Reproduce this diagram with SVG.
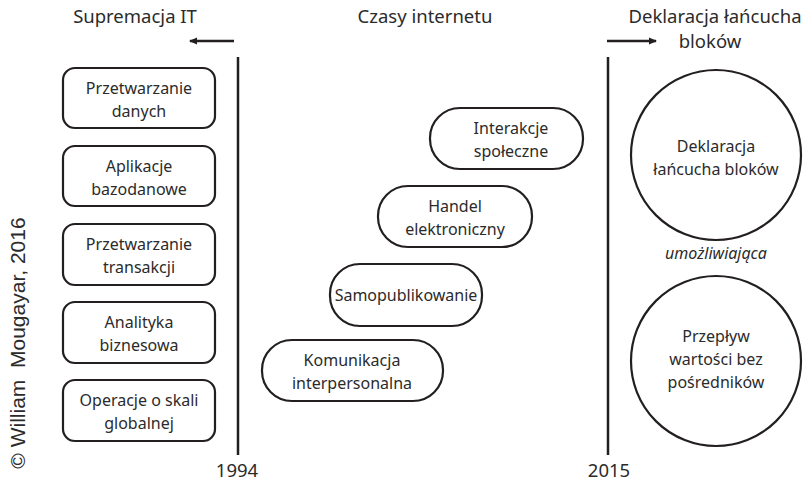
<svg xmlns="http://www.w3.org/2000/svg" width="806" height="484" viewBox="0 0 806 484">
<style>
.t{font-family:"Noto Sans","Open Sans",sans-serif;font-size:16px;fill:#2b2b2b;text-anchor:middle}
.h{font-family:"Noto Sans","Open Sans",sans-serif;font-size:18.5px;fill:#2b2b2b;text-anchor:middle}
.s{fill:#fff;stroke:#231f20;stroke-width:2.2}
.ln{stroke:#231f20;stroke-width:2.5;fill:none}
</style>
<defs>
<marker id="ah" markerWidth="8" markerHeight="8" refX="7" refY="4" orient="auto" markerUnits="userSpaceOnUse">
<path d="M0,0.5 L8,4 L0,7.5 Z" fill="#231f20"/>
</marker>
</defs>
<rect width="806" height="484" fill="#fff"/>
<text class="h" x="135" y="23">Supremacja IT</text>
<text class="h" x="425" y="23">Czasy internetu</text>
<text class="h" x="715" y="23">Deklaracja łańcucha</text>
<text class="h" x="710" y="48">bloków</text>
<text class="h" x="237" y="477">1994</text>
<text class="h" x="609" y="477">2015</text>
<text x="0" y="0" transform="translate(25,343) rotate(-90)" style="font-family:'Liberation Sans',Arial,sans-serif;font-size:21px;fill:#2b2b2b;text-anchor:middle;white-space:pre" xml:space="preserve">© William  Mougayar, 2016</text>
<g id="connectors">
<line class="ln" x1="238" y1="57" x2="238" y2="455"/>
<line class="ln" x1="608" y1="57" x2="608" y2="455"/>
<line class="ln" x1="234" y1="41" x2="190" y2="41" marker-end="url(#ah)"/>
<line class="ln" x1="607" y1="41" x2="656" y2="41" marker-end="url(#ah)"/>
</g>
<g id="n1"><rect class="s" x="63" y="68" width="152" height="60" rx="12"/><text class="t" x="139" y="94">Przetwarzanie</text><text class="t" x="139" y="117">danych</text></g>
<g id="n2"><rect class="s" x="63" y="146" width="152" height="60" rx="12"/><text class="t" x="139" y="172">Aplikacje</text><text class="t" x="139" y="195">bazodanowe</text></g>
<g id="n3"><rect class="s" x="63" y="224" width="152" height="61" rx="12"/><text class="t" x="139" y="250">Przetwarzanie</text><text class="t" x="139" y="273">transakcji</text></g>
<g id="n4"><rect class="s" x="63" y="302" width="152" height="61" rx="12"/><text class="t" x="139" y="328">Analityka</text><text class="t" x="139" y="351">biznesowa</text></g>
<g id="n5"><rect class="s" x="63" y="380" width="152" height="61" rx="12"/><text class="t" x="139" y="406">Operacje o skali</text><text class="t" x="139" y="429">globalnej</text></g>
<g id="p1"><rect class="s" x="430" y="108" width="153" height="61" rx="30"/><text class="t" x="511" y="134">Interakcje</text><text class="t" x="511" y="157">społeczne</text></g>
<g id="p2"><rect class="s" x="378" y="186" width="154" height="61" rx="30"/><text class="t" x="455" y="212">Handel</text><text class="t" x="455" y="235">elektroniczny</text></g>
<g id="p3"><rect class="s" x="330" y="264" width="152" height="62" rx="30"/><text class="t" x="406" y="301">Samopublikowanie</text></g>
<g id="p4"><rect class="s" x="262" y="340" width="181" height="61" rx="30"/><text class="t" x="352" y="366">Komunikacja</text><text class="t" x="352" y="389">interpersonalna</text></g>
<g id="c1"><circle class="s" cx="716" cy="155" r="85"/><text class="t" x="716" y="152">Deklaracja</text><text class="t" x="716" y="175">łańcucha bloków</text></g>
<text class="t" x="716" y="259" font-style="italic">umożliwiająca</text>
<g id="c2"><circle class="s" cx="716" cy="361" r="85"/><text class="t" x="716" y="342">Przepływ</text><text class="t" x="716" y="365">wartości bez</text><text class="t" x="716" y="388">pośredników</text></g>
</svg>
